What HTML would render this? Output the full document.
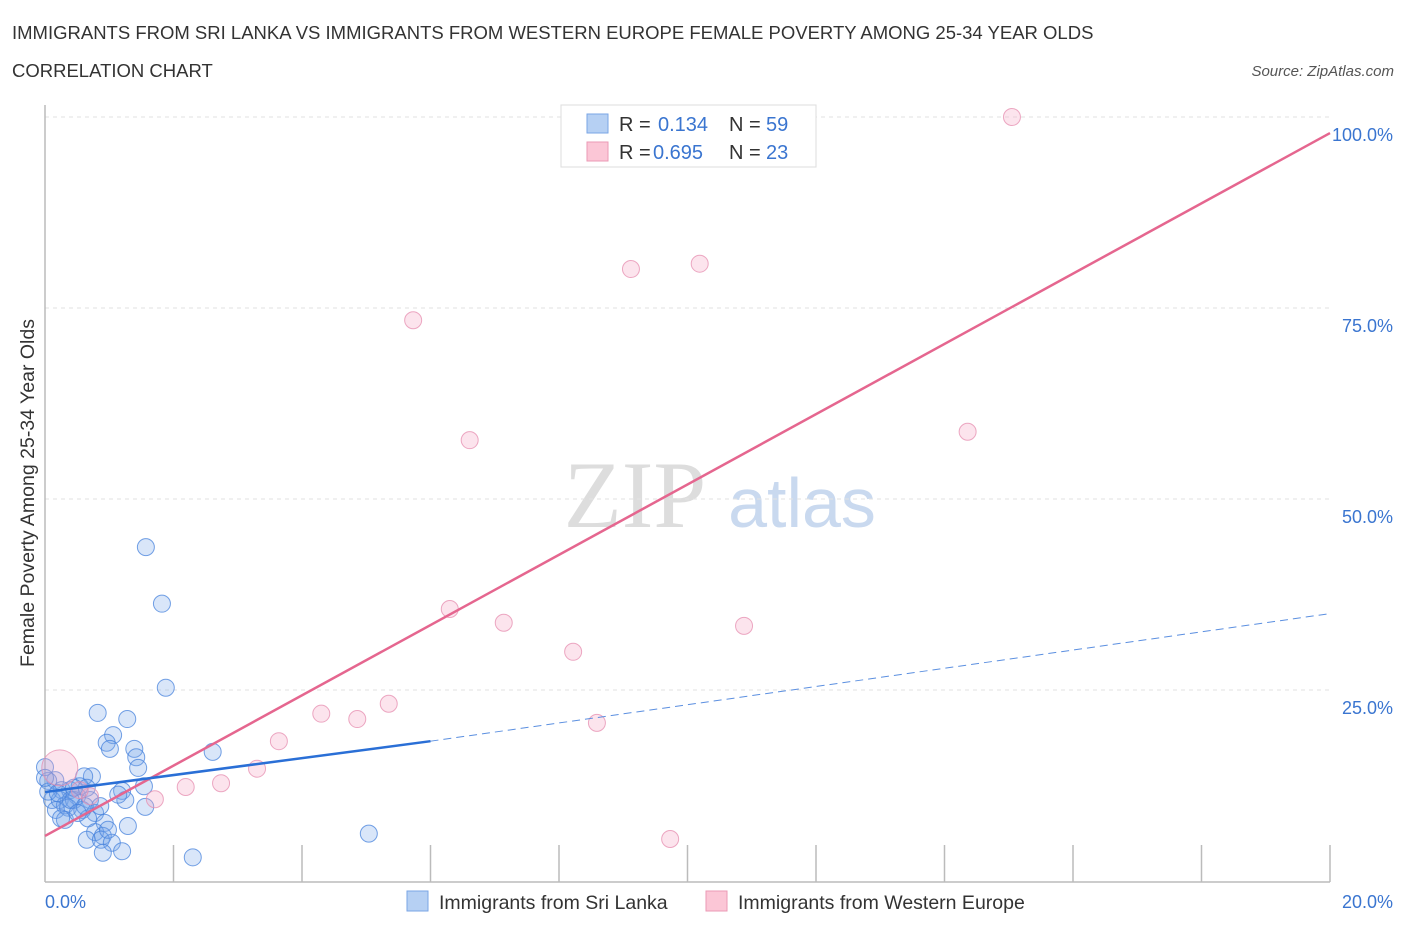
<!DOCTYPE html>
<html><head><meta charset="utf-8"><style>
body{margin:0;background:#fff;font-family:"Liberation Sans",sans-serif;}
</style></head><body>
<svg id="chart" width="1406" height="930" xmlns="http://www.w3.org/2000/svg" font-family="Liberation Sans, sans-serif">
<text x="12" y="39" font-size="18.5" fill="#333">IMMIGRANTS FROM SRI LANKA VS IMMIGRANTS FROM WESTERN EUROPE FEMALE POVERTY AMONG 25-34 YEAR OLDS</text>
<text x="12" y="77" font-size="18.5" fill="#333">CORRELATION CHART</text>
<text x="1394" y="76" font-size="15" fill="#555" font-style="italic" text-anchor="end">Source: ZipAtlas.com</text>
<text x="635" y="527" font-size="95" fill="#ddd" style="font-family:'Liberation Serif',serif" text-anchor="middle">ZIP</text>
<text x="802" y="527" font-size="70" fill="#c9d9ef" text-anchor="middle">atlas</text>
<g id="grid"></g>
<line x1="45" y1="105" x2="45" y2="882" stroke="#bbb" stroke-width="1.5"/>
<line x1="45" y1="882" x2="1330" y2="882" stroke="#bbb" stroke-width="1.5"/>
<g id="ticks"></g>
<g id="pts"></g>
<g id="lines"></g>
<text transform="translate(34,493) rotate(-90)" font-size="19.5" fill="#333" text-anchor="middle">Female Poverty Among 25-34 Year Olds</text>
<text x="45" y="908" font-size="18" fill="#3a75d0">0.0%</text>
<text x="1393" y="908" font-size="18" fill="#3a75d0" text-anchor="end">20.0%</text>
<g>
<rect x="561" y="105" width="255" height="62" fill="#fff" stroke="#ddd"/>
<rect x="587" y="114" width="21" height="19" fill="#b6d0f3" stroke="#7aa6e6"/>
<rect x="587" y="142" width="21" height="19" fill="#fbc6d6" stroke="#eb9ab5"/>
<text x="619" y="131" font-size="20" fill="#333">R = </text><text x="658" y="131" font-size="20" fill="#3a75d0">0.134</text>
<text x="729" y="131" font-size="20" fill="#333">N = </text><text x="766" y="131" font-size="20" fill="#3a75d0">59</text>
<text x="619" y="159" font-size="20" fill="#333">R = </text><text x="653" y="159" font-size="20" fill="#3a75d0">0.695</text>
<text x="729" y="159" font-size="20" fill="#333">N = </text><text x="766" y="159" font-size="20" fill="#3a75d0">23</text>
</g>
<g>
<rect x="407" y="891" width="21" height="20" fill="#b6d0f3" stroke="#7aa6e6"/>
<text x="439" y="909" font-size="19.5" fill="#333">Immigrants from Sri Lanka</text></g>
<g>
<rect x="706" y="891" width="21" height="20" fill="#fbc6d6" stroke="#eb9ab5"/>
<text x="738" y="909" font-size="19.5" fill="#333">Immigrants from Western Europe</text></g>
</svg>
<script>
const blueX=[1.57,1.82,1.88,0.82,1.28,1.06,0.96,1.39,1.01,1.42,1.45,2.61,0.73,0.61,1.54,1.20,1.25,0.16,0.05,0.26,0.39,0.54,0.50,0.11,0.23,0.31,0.45,0.70,0.17,0.36,0.58,0.78,1.56,0.31,0.67,0.93,0.78,0.90,1.29,0.65,0.87,1.04,0.90,1.20,2.30,5.04,0.00,0.05,0.40,0.62,0.86,0.20,0.45,1.14,0.65,0.25,0.51,0.0,0.98];
const blueY=[43.7,36.3,25.3,22.0,21.2,19.1,18.1,17.3,17.3,16.2,14.8,16.9,13.7,13.7,12.4,11.8,10.6,13.2,13.1,11.9,11.9,12.4,11.1,10.6,10.6,9.9,10.6,10.6,9.3,9.6,9.3,8.9,9.7,8.0,8.2,7.6,6.4,5.9,7.2,5.4,5.4,5.0,3.7,3.9,3.1,6.2,14.9,11.7,10.6,9.8,9.8,11.5,12.2,11.3,12.2,8.2,8.9,13.5,6.7];
const pinkX=[15.05,10.19,9.12,5.73,6.61,14.36,6.30,7.14,10.88,8.22,5.35,4.30,4.86,8.59,3.64,3.30,2.74,2.19,1.71,0.70,9.73,0.23,0.54];
const pinkY=[100.0,80.8,80.1,73.4,57.7,58.8,35.6,33.8,33.4,30.0,23.2,21.9,21.2,20.7,18.3,14.7,12.8,12.3,10.7,11.1,5.5,14.8,11.9];
const pinkBig=[0,0,0,0,0,0,0,0,0,0,0,0,0,0,0,0,0,0,0,0,0,1,0];
const yTicks=[25,50,75,100];
const yTickLabels=["25.0%","50.0%","75.0%","100.0%"];
const xTicks=[2,4,6,8,10,12,14,16,18,20];
const pinkTrend=[[0,5.9],[20,97.9]];
const blueTrendSolid=[[0,11.65],[6,18.3]];
const blueTrendDash=[[6,18.3],[20,35.0]];
const X=v=>45+v/20*1285, Y=v=>881-v/25*191;
const NS="http://www.w3.org/2000/svg";
function mk(tag,attrs,parent){const e=document.createElementNS(NS,tag);for(const k in attrs)e.setAttribute(k,attrs[k]);document.getElementById(parent).appendChild(e);return e;}
yTicks.forEach((t,i)=>{
 const l=mk('line',{x1:45,x2:1330,y1:Y(t),y2:Y(t),stroke:'#e2e2e2','stroke-dasharray':'4,4'},'grid');
 
 
 const tx=mk('text',{x:1393,y:Y(t)+24,'font-size':18,fill:'#3a75d0','text-anchor':'end'},'grid');
 tx.textContent=yTickLabels[i];
 
 
});
xTicks.forEach(t=>{
 const l=mk('line',{x1:X(t),x2:X(t),y1:845,y2:882,stroke:'#bbb','stroke-width':1.5},'ticks');
 
 
});
blueX.forEach((x,i)=>{
 const c=mk('circle',{cx:X(x),cy:Y(blueY[i]),r:8.5,fill:'rgba(120,165,235,0.28)',stroke:'rgba(70,130,220,0.75)','stroke-width':1},'pts');
 
 
});
pinkX.forEach((x,i)=>{
 const c=mk('circle',{cx:X(x),cy:Y(pinkY[i]),r:pinkBig[i]?18:8.5,fill:'rgba(245,165,195,0.3)',stroke:'rgba(230,140,175,0.75)','stroke-width':1},'pts');
 
 
});
function line(p,st,name){const l=mk('line',Object.assign({x1:X(p[0][0]),y1:Y(p[0][1]),x2:X(p[1][0]),y2:Y(p[1][1])},st),'lines');
 
 }
line(pinkTrend,{stroke:'#e5668f','stroke-width':2.5},'trend-western-europe');
line(blueTrendSolid,{stroke:'#2a6fd6','stroke-width':2.5},'trend-sri-lanka');
line(blueTrendDash,{stroke:'#5b8fe0','stroke-width':1,'stroke-dasharray':'8,5'},'trend-sri-lanka-extrapolated');
</script>
</body></html>
